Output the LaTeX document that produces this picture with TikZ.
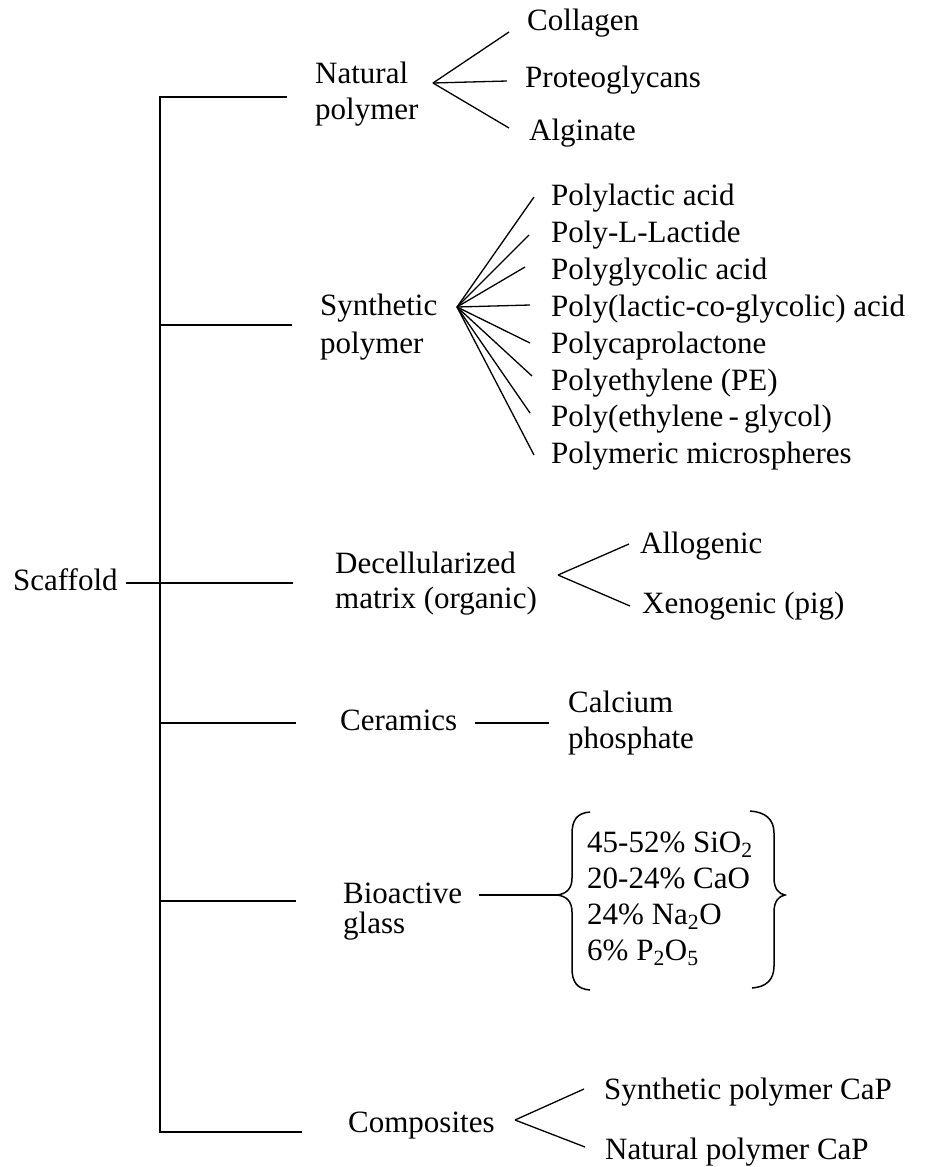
\documentclass[tikz,border=0pt]{standalone}
\usepackage{fontspec}
\setmainfont{Liberation Serif}
\usetikzlibrary{calc}
\begin{document}
\begin{tikzpicture}[x=1pt,y=-1pt,
  lbl/.style={anchor=base west, inner sep=0pt, align=left, font={\fontsize{31}{36}\selectfont}},
  trunkline/.style={line width=1.7pt},
  fanline/.style={line width=1.3pt},
  braceline/.style={line width=1.5pt}]
\useasboundingbox (0,0) rectangle (924,1167);

% labels (multi-line nodes: base = last line)
\node[lbl] (scaf) at (13,590) {Scaffold};
\node[lbl] (nat) at (315,119) {Natural\\polymer};
\node[lbl, font={\fontsize{31}{38}\selectfont}] (syn) at (320,353) {Synthetic\\polymer};
\node[lbl, font={\fontsize{31}{35}\selectfont}] (dec) at (335,608) {Decellularized\\matrix (organic)};
\node[lbl] (cer) at (340,730) {Ceramics};
\node[lbl, font={\fontsize{31}{30}\selectfont}] (bio) at (343,933) {Bioactive\\glass};
\node[lbl] (com) at (348,1132) {Composites};

\node[lbl] (col) at (527,30) {Collagen};
\node[lbl] (pro) at (525,87) {Proteoglycans};
\node[lbl] (alg) at (529,140) {Alginate};

\node[lbl] (s1) at (551,205) {Polylactic acid};
\node[lbl] (s2) at (551,242) {Poly-L-Lactide};
\node[lbl] (s3) at (551,279) {Polyglycolic acid};
\node[lbl] (s4) at (551,316) {Poly(lactic-co-glycolic) acid};
\node[lbl] (s5) at (551,353) {Polycaprolactone};
\node[lbl] (s6) at (551,390) {Polyethylene (PE)};
\node[lbl] (s7) at (551,426) {Poly(ethylene\,-\,glycol)};
\node[lbl] (s8) at (551,463) {Polymeric microspheres};

\node[lbl] (allo) at (640,553) {Allogenic};
\node[lbl] (xeno) at (642,613) {Xenogenic (pig)};

\node[lbl] (cap) at (568,748) {Calcium\\phosphate};

\node[lbl] (glass) at (587,960) {45-52\% SiO\textsubscript{2}\\20-24\% CaO\\24\% Na\textsubscript{2}O\\6\% P\textsubscript{2}O\textsubscript{5}};

\node[lbl] (scap) at (604,1099) {Synthetic polymer CaP};
\node[lbl] (ncap) at (605,1159) {Natural polymer CaP};

% trunk and branches
\coordinate (ttop) at (160,97);
\coordinate (tbot) at (160,1132);
\coordinate (bnat) at (287,97);
\coordinate (bsyn) at (292,325);
\coordinate (bdec) at (293,583);
\coordinate (bcer) at (296,723);
\coordinate (bbio) at (296,901);
\coordinate (bcom) at (302,1132);
\draw[trunkline] (bnat) -- (ttop) -- (tbot) -- (bcom);
\draw[trunkline] (ttop |- bsyn) -- (bsyn);
\draw[trunkline] ($(scaf.base east)+(8,-7)$) -- (bdec);
\draw[trunkline] (ttop |- bcer) -- (bcer);
\draw[trunkline] (ttop |- bbio) -- (bbio);

% natural polymer fan
\coordinate (fnat) at (433,83);
\draw[fanline] (fnat) -- ($(col.base west)+(-18,2)$);
\draw[fanline] (fnat) -- ($(pro.base west)+(-18,-6)$);
\draw[fanline] (fnat) -- ($(alg.base west)+(-20,-12)$);

% synthetic polymer fan
\coordinate (fsyn) at (457,307);
\draw[fanline] (fsyn) -- ($(s1.base west)+(-17,-8)$);
\draw[fanline] (fsyn) -- ($(s2.base west)+(-22,-7)$);
\draw[fanline] (fsyn) -- ($(s3.base west)+(-26,-12)$);
\draw[fanline] (fsyn) -- ($(s4.base west)+(-21,-11)$);
\draw[fanline] (fsyn) -- ($(s5.base west)+(-21,-10)$);
\draw[fanline] (fsyn) -- ($(s6.base west)+(-19,-14)$);
\draw[fanline] (fsyn) -- ($(s7.base west)+(-21,-13)$);
\draw[fanline] (fsyn) -- ($(s8.base west)+(-17,-8)$);

% decellularized fan
\coordinate (fdec) at (558,575);
\draw[fanline] (fdec) -- ($(allo.base west)+(-11,-9)$);
\draw[fanline] (fdec) -- ($(xeno.base west)+(-12,-7)$);

% ceramics
\draw[trunkline] ($(cer.base east)+(18,-7)$) -- ($(cap.base west)+(-19,-25)$);

% bioactive glass with braces
\coordinate (brpt) at (557,895);
\draw[trunkline] ($(bio.east |- brpt)+(17,0)$) -- (brpt);
\draw[braceline] (590,812) .. controls (577,813) and (572,820) .. (572,834)
  -- (572,878) .. controls (572,889) and (566,894) .. (brpt)
  .. controls (566,896) and (572,901) .. (572,912)
  -- (572,968) .. controls (572,982) and (577,989) .. (590,990);
\draw[braceline] (750,811) .. controls (765,812) and (774,819) .. (774,833)
  -- (774,878) .. controls (774,889) and (779,894) .. (785,895)
  .. controls (779,896) and (774,901) .. (774,912)
  -- (774,966) .. controls (774,980) and (766,987) .. (752,988);

% composites fan
\coordinate (fcom) at (515,1120);
\draw[fanline] (fcom) -- ($(scap.base west)+(-20,-10)$);
\draw[fanline] (fcom) -- ($(ncap.base west)+(-20,-12)$);
\end{tikzpicture}
\end{document}
